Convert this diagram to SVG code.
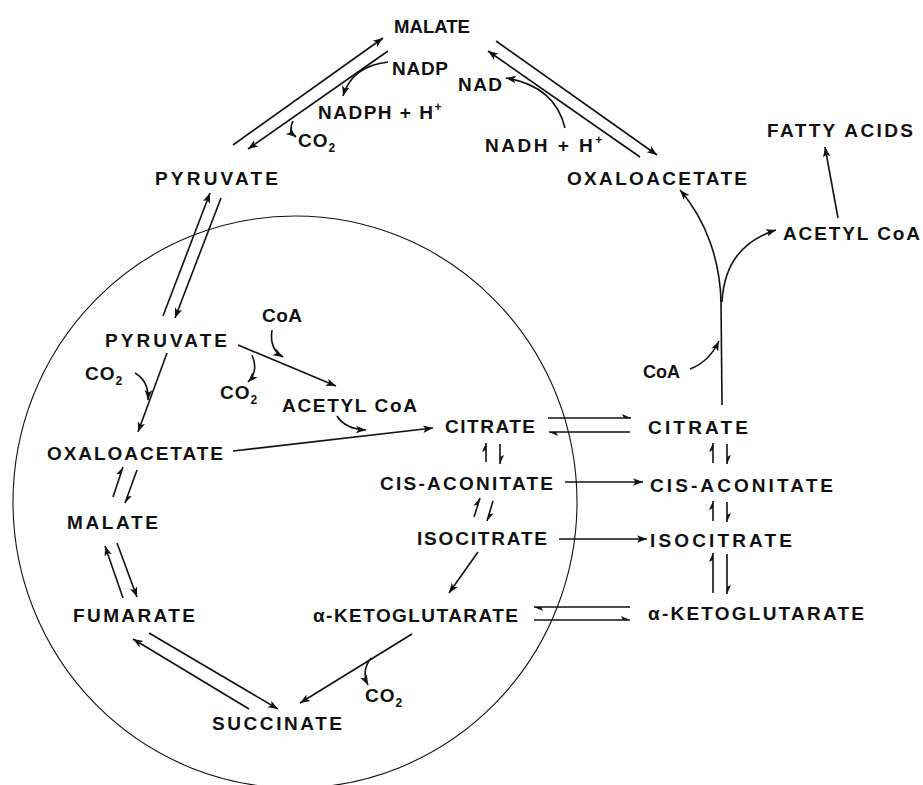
<svg xmlns="http://www.w3.org/2000/svg" width="923" height="785" viewBox="0 0 923 785">
<defs>
<style>
text{font-family:"Liberation Sans",Arial,sans-serif;font-weight:bold;font-size:19px;fill:#111}
.sm{font-size:12px}
.ln{stroke:#111;stroke-width:1.6;fill:none}
.a{marker-end:url(#arr)}
.h{marker-end:url(#harp)}
.mem{stroke:#111;stroke-width:1.1;fill:none}
</style>
<marker id="arr" viewBox="0 -5 11 10" refX="10" refY="0" markerWidth="11" markerHeight="10" markerUnits="userSpaceOnUse" orient="auto"><path d="M0,-3.8 L10,0 L0,3.8 L2.5,0 z" fill="#111"/></marker>
<marker id="harp" viewBox="0 -5 11 10" refX="10" refY="0" markerWidth="11" markerHeight="10" markerUnits="userSpaceOnUse" orient="auto"><path d="M10,0 L1,-4 L3,0 z" fill="#111"/></marker>
</defs>
<rect width="923" height="785" fill="#fff"/>
<ellipse class="mem" cx="295" cy="502" rx="282" ry="286"/>
<g id="connectors">
<path class="ln a" d="M233,145 L383,38"/>
<path class="ln a" d="M388,51 L248,149"/>
<path class="ln a" d="M388,62 Q352,66 343,96"/>
<path class="ln a" d="M293,121 Q288,131 296,137"/>
<path class="ln a" d="M496,41 L657,155"/>
<path class="ln a" d="M640,157 L488,51"/>
<path class="ln a" d="M565,128 Q555,86 506,78"/>
<path class="ln a" d="M838,218 L825,147"/>
<path class="ln" d="M722,405 L721,300"/>
<path class="ln a" d="M721,302 C720,260 706,220 680,190"/>
<path class="ln a" d="M722,302 C724,262 744,240 776,230"/>
<path class="ln a" d="M690,369 Q709,362 719,341"/>
<path class="ln a" d="M163,316 L210,193"/>
<path class="ln a" d="M221,198 L175,318"/>
<path class="ln a" d="M167,353 L138,432"/>
<path class="ln a" d="M135,373 Q149,381 148,400"/>
<path class="ln a" d="M238,345 L336,386"/>
<path class="ln a" d="M272,330 Q269,349 283,357"/>
<path class="ln a" d="M252,355 Q259,371 248,382"/>
<path class="ln a" d="M233,451 L433,428"/>
<path class="ln a" d="M337,416 Q345,429 366,430"/>
<path class="ln h" d="M548,418 L631,418"/>
<path class="ln h" d="M630,432 L549,432"/>
<path class="ln h" d="M486,462 L486,443"/>
<path class="ln h" d="M500,444 L500,464"/>
<path class="ln h" d="M474,517 L480,498"/>
<path class="ln h" d="M493,501 L487,521"/>
<path class="ln a" d="M565,482 L643,482"/>
<path class="ln a" d="M559,539 L647,539"/>
<path class="ln a" d="M478,552 L449,593"/>
<path class="ln h" d="M713,463 L713,443"/>
<path class="ln h" d="M727,444 L727,464"/>
<path class="ln h" d="M713,521 L713,501"/>
<path class="ln h" d="M727,502 L727,522"/>
<path class="ln h" d="M713,593 L713,553"/>
<path class="ln h" d="M727,554 L727,594"/>
<path class="ln h" d="M630,607 L534,607"/>
<path class="ln h" d="M534,620 L630,620"/>
<path class="ln a" d="M412,634 L300,703"/>
<path class="ln a" d="M371,658 Q361,671 368,685"/>
<path class="ln a" d="M249,709 L133,639"/>
<path class="ln a" d="M149,633 L278,709"/>
<path class="ln a" d="M123,598 L105,546"/>
<path class="ln a" d="M117,543 L137,597"/>
<path class="ln h" d="M113,497 L123,467"/>
<path class="ln h" d="M137,470 L125,503"/>
</g>
<g id="malate-cyto"><text x="394" y="33" textLength="76" lengthAdjust="spacingAndGlyphs">MALATE</text></g>
<g id="nadp"><text x="392" y="75" textLength="56" lengthAdjust="spacing">NADP</text></g>
<g id="nadph"><text x="318" y="119" letter-spacing="1.5">NADPH + H<tspan class="sm" dy="-8">+</tspan></text></g>
<g id="co2-top"><text x="298" y="147" letter-spacing="1">CO<tspan class="sm" dy="5">2</tspan></text></g>
<g id="pyruvate-cyto"><text x="155" y="185" textLength="123" lengthAdjust="spacing">PYRUVATE</text></g>
<g id="nad"><text x="458" y="91" textLength="44" lengthAdjust="spacing">NAD</text></g>
<g id="nadh"><text x="485" y="152" letter-spacing="2.5">NADH + H<tspan class="sm" dy="-8">+</tspan></text></g>
<g id="oaa-cyto"><text x="567" y="185" textLength="180" lengthAdjust="spacing">OXALOACETATE</text></g>
<g id="fatty-acids"><text x="767" y="137" textLength="146" lengthAdjust="spacing">FATTY ACIDS</text></g>
<g id="acetylcoa-cyto"><text x="783" y="240" textLength="137" lengthAdjust="spacing">ACETYL CoA</text></g>
<g id="coa-cyto"><text x="643" y="378" textLength="37" lengthAdjust="spacingAndGlyphs">CoA</text></g>
<g id="pyruvate-mito"><text x="105" y="347" textLength="122" lengthAdjust="spacing">PYRUVATE</text></g>
<g id="co2-left"><text x="85" y="380" letter-spacing="1">CO<tspan class="sm" dy="5">2</tspan></text></g>
<g id="coa-mito"><text x="262" y="322" textLength="40" lengthAdjust="spacing">CoA</text></g>
<g id="co2-mid"><text x="220" y="399" letter-spacing="1">CO<tspan class="sm" dy="5">2</tspan></text></g>
<g id="acetylcoa-mito"><text x="282" y="412" textLength="135" lengthAdjust="spacing">ACETYL CoA</text></g>
<g id="citrate-mito"><text x="445" y="433" textLength="90" lengthAdjust="spacing">CITRATE</text></g>
<g id="cisacon-mito"><text x="380" y="490" textLength="173" lengthAdjust="spacing">CIS-ACONITATE</text></g>
<g id="isocitrate-mito"><text x="417" y="545" textLength="130" lengthAdjust="spacing">ISOCITRATE</text></g>
<g id="akg-mito"><text x="313" y="622" textLength="205" lengthAdjust="spacing">α-KETOGLUTARATE</text></g>
<g id="co2-low"><text x="365" y="702" letter-spacing="1">CO<tspan class="sm" dy="5">2</tspan></text></g>
<g id="succinate"><text x="212" y="730" textLength="130" lengthAdjust="spacing">SUCCINATE</text></g>
<g id="fumarate"><text x="73" y="622" textLength="122" lengthAdjust="spacing">FUMARATE</text></g>
<g id="malate-mito"><text x="67" y="529" textLength="91" lengthAdjust="spacing">MALATE</text></g>
<g id="oaa-mito"><text x="47" y="460" textLength="176" lengthAdjust="spacing">OXALOACETATE</text></g>
<g id="citrate-cyto"><text x="648" y="434" textLength="100" lengthAdjust="spacing">CITRATE</text></g>
<g id="cisacon-cyto"><text x="650" y="492" textLength="183" lengthAdjust="spacing">CIS-ACONITATE</text></g>
<g id="isocitrate-cyto"><text x="650" y="547" textLength="142" lengthAdjust="spacing">ISOCITRATE</text></g>
<g id="akg-cyto"><text x="648" y="620" textLength="216" lengthAdjust="spacing">α-KETOGLUTARATE</text></g>
</svg>
